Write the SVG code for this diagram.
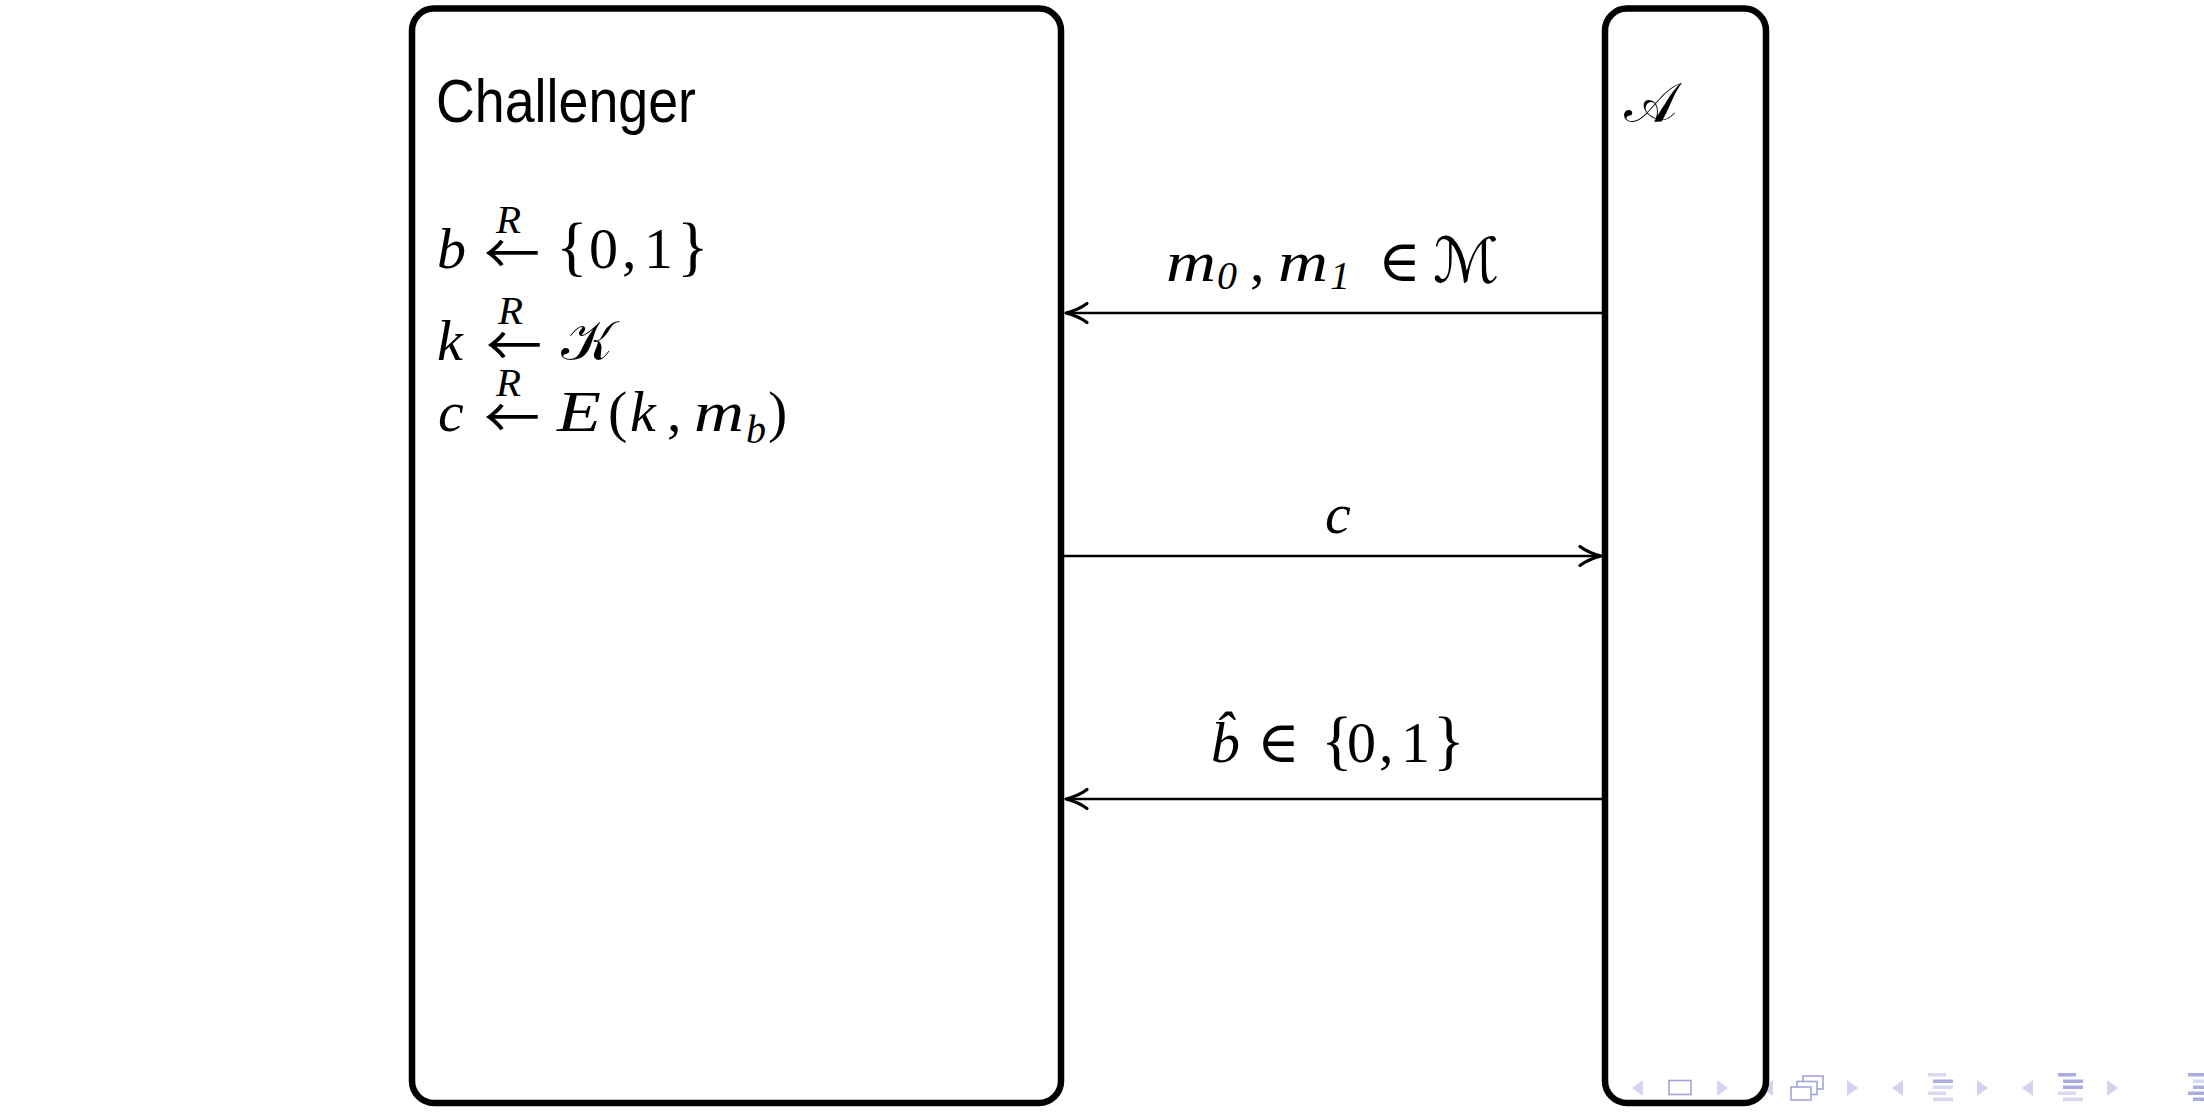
<svg xmlns="http://www.w3.org/2000/svg" width="2204" height="1112" viewBox="0 0 2204 1112">
  <style>
    .box { fill: none; stroke: #000; stroke-width: 6.5; }
    .conn { stroke: #000; stroke-width: 2.6; fill: none; }
    .title { font-family: "Liberation Sans", Arial, sans-serif; font-size: 61px; fill: #000; }
    .mi { font-family: "Liberation Serif", "DejaVu Serif", serif; font-style: italic; font-size: 58px; fill: #000; }
    .mu { font-family: "Liberation Serif", "DejaVu Serif", serif; font-size: 58px; fill: #000; }
    .br { font-size: 66px; }
    .arr { font-family: "Noto Sans CJK SC", "DejaVu Sans", sans-serif; font-size: 56px; fill: #000; }
    .cal { font-family: "DejaVu Serif", "DejaVu Sans", "Noto Sans", serif; font-size: 56px; fill: #000; }
    .big { font-size: 62px; }
    .R { font-size: 41px; }
    .sub { font-size: 40px; }
    .tri { fill: #d3d3f0; }
    .sq { fill: #fff; stroke: #a4a4dc; stroke-width: 1.6; }
    .dk { fill: #ababe0; }
    .lt { fill: #d8d8f2; }
  </style>
  <defs>
    <marker id="head" markerUnits="userSpaceOnUse" markerWidth="30" markerHeight="30" viewBox="-26 -15 30 30" refX="0" refY="0" orient="auto">
      <path d="M-21,-9.5 C-15,-5 -6,-1.5 0,0 C-6,1.5 -15,5 -21,9.5" fill="none" stroke="#000" stroke-width="3.2" stroke-linecap="round" stroke-linejoin="round"/>
    </marker>
  </defs>
  <rect width="2204" height="1112" fill="#fff"/>

  <g id="nav">
    <polygon class="tri" points="1632,1088 1643,1080 1643,1096"/>
    <rect class="sq" x="1669" y="1080.5" width="22" height="14"/>
    <polygon class="tri" points="1717,1080 1728,1088 1717,1096"/>
    <polygon class="tri" points="1762,1088 1773,1080 1773,1096"/>
    <rect class="sq" x="1803" y="1076" width="20" height="13"/>
    <rect class="sq" x="1797" y="1081.5" width="20" height="13"/>
    <rect class="sq" x="1791" y="1087" width="20" height="13"/>
    <polygon class="tri" points="1847,1080 1858,1088 1847,1096"/>
    <polygon class="tri" points="1892,1088 1903,1080 1903,1096"/>
    <rect class="lt" x="1928" y="1073" width="18" height="3.5"/>
    <rect class="dk" x="1933" y="1079.5" width="20" height="3.5"/>
    <rect class="lt" x="1933" y="1085.5" width="20" height="3.5"/>
    <rect class="lt" x="1928" y="1091.5" width="18" height="3.5"/>
    <rect class="lt" x="1933" y="1097.5" width="20" height="3.5"/>
    <polygon class="tri" points="1977,1080 1988,1088 1977,1096"/>
    <polygon class="tri" points="2022,1088 2033,1080 2033,1096"/>
    <rect class="dk" x="2058" y="1073" width="18" height="3.5"/>
    <rect class="dk" x="2063" y="1079.5" width="20" height="3.5"/>
    <rect class="dk" x="2063" y="1085.5" width="20" height="3.5"/>
    <rect class="lt" x="2058" y="1091.5" width="18" height="3.5"/>
    <rect class="lt" x="2063" y="1097.5" width="20" height="3.5"/>
    <polygon class="tri" points="2107,1080 2118,1088 2107,1096"/>
    <rect class="dk" x="2188" y="1073" width="18" height="3.5"/>
    <rect class="lt" x="2193" y="1079.5" width="20" height="3.5"/>
    <rect class="dk" x="2193" y="1085.5" width="20" height="3.5"/>
    <rect class="dk" x="2188" y="1091.5" width="18" height="3.5"/>
    <rect class="dk" x="2193" y="1097.5" width="20" height="3.5"/>
  </g>

  <g id="challenger">
    <rect class="box" x="412" y="8.5" width="649" height="1094.5" rx="22" ry="22"/>
    <text class="title" x="436" y="122" textLength="260" lengthAdjust="spacingAndGlyphs">Challenger</text>
    <text class="mi" x="437" y="268">b</text>
    <text class="arr" x="484" y="274" textLength="56" lengthAdjust="spacingAndGlyphs">←</text>
    <text class="mi R" x="496" y="233">R</text>
    <text class="mu br" x="556" y="268">{</text>
    <text class="mu" x="589" y="268">0</text>
    <text class="mu" x="622" y="268">,</text>
    <text class="mu" x="644" y="268">1</text>
    <text class="mu br" x="677" y="268">}</text>

    <text class="mi" x="437" y="360">k</text>
    <text class="arr" x="486" y="366" textLength="56" lengthAdjust="spacingAndGlyphs">←</text>
    <text class="mi R" x="498" y="324">R</text>
    <text class="cal" x="561" y="360">𝒦</text>

    <text class="mi" x="438" y="431">c</text>
    <text class="arr" x="484" y="438" textLength="56" lengthAdjust="spacingAndGlyphs">←</text>
    <text class="mi R" x="496" y="396">R</text>
    <text class="mi" x="557" y="431" textLength="44" lengthAdjust="spacingAndGlyphs">E</text>
    <text class="mu" x="608" y="431">(</text>
    <text class="mi" x="630" y="431">k</text>
    <text class="mu" x="667" y="431">,</text>
    <text class="mi" x="694" y="431" textLength="50" lengthAdjust="spacingAndGlyphs">m</text>
    <text class="mi sub" x="746" y="443">b</text>
    <text class="mu" x="768" y="431">)</text>
  </g>

  <g id="adversary">
    <rect class="box" x="1605" y="8.5" width="161" height="1094.5" rx="22" ry="22"/>
    <text class="cal" x="1624" y="122">𝒜</text>
  </g>

  <g id="connectors">
    <line class="conn" x1="1602" y1="313" x2="1066" y2="313" marker-end="url(#head)"/>
    <text class="mi" x="1166" y="281" textLength="50" lengthAdjust="spacingAndGlyphs">m</text>
    <text class="mi sub" x="1217" y="289">0</text>
    <text class="mu" x="1250" y="281">,</text>
    <text class="mi" x="1278" y="281" textLength="50" lengthAdjust="spacingAndGlyphs">m</text>
    <text class="mi sub" x="1330" y="289">1</text>
    <text class="mu" x="1378" y="281">∈</text>
    <text class="cal big" x="1433" y="282">ℳ</text>

    <line class="conn" x1="1064" y1="556" x2="1601" y2="556" marker-end="url(#head)"/>
    <text class="mi" x="1325" y="533">c</text>

    <line class="conn" x1="1602" y1="799" x2="1066" y2="799" marker-end="url(#head)"/>
    <text class="mi" x="1211" y="762">b̂</text>
    <text class="mu" x="1257" y="762">∈</text>
    <text class="mu br" x="1321" y="762">{</text>
    <text class="mu" x="1347" y="762">0</text>
    <text class="mu" x="1379" y="762">,</text>
    <text class="mu" x="1401" y="762">1</text>
    <text class="mu br" x="1433" y="762">}</text>
  </g>
</svg>
